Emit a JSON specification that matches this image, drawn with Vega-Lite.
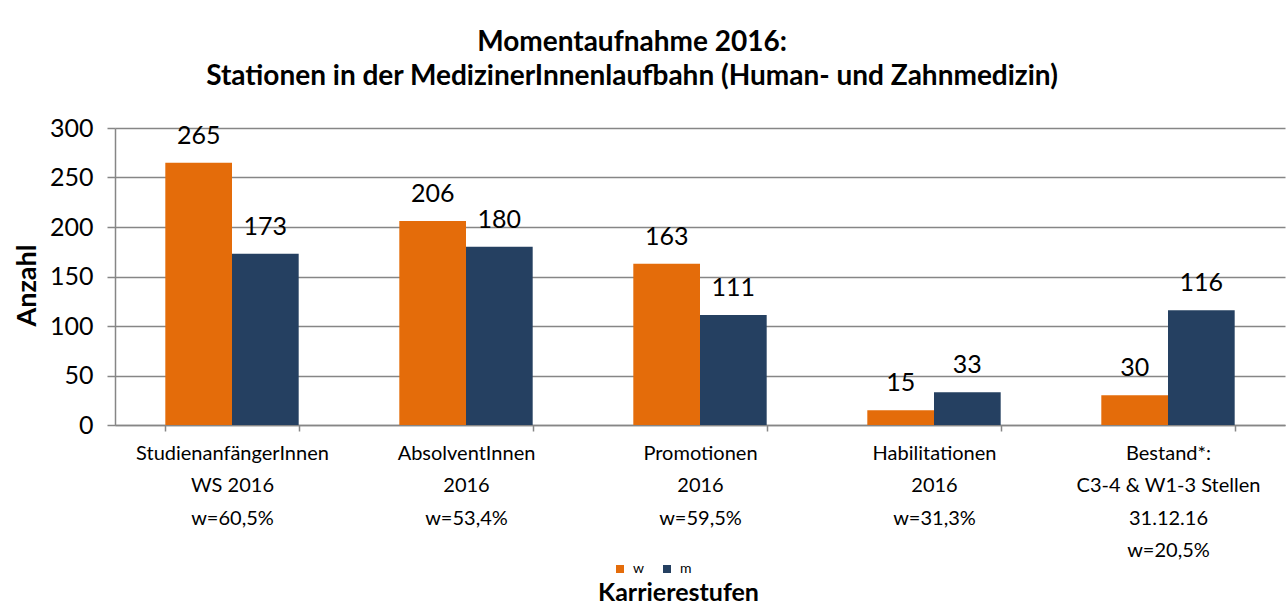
{
  "$schema": "https://vega.github.io/schema/vega-lite/v6.json",
  "width": 1170,
  "height": 297,
  "autosize": {"type": "none"},
  "padding": {"left": 115, "top": 128, "right": 3, "bottom": 189},
  "background": "white",
  "config": {
    "font": "Lato",
    "view": {"stroke": null},
    "axis": {"labelFont": "Lato", "titleFont": "Lato"},
    "legend": {"labelFont": "Lato"}
  },
  "title": {
    "text": ["Momentaufnahme 2016:", "Stationen in der MedizinerInnenlaufbahn (Human- und Zahnmedizin)"],
    "fontSize": 28,
    "fontWeight": "bold",
    "font": "Lato",
    "color": "black",
    "lineHeight": 34,
    "anchor": "middle",
    "dx": -68,
    "offset": 25
  },
  "data": {
    "values": [
      {"stufe": "StudienanfängerInnen|WS 2016|w=60,5%", "geschlecht": "w", "anzahl": 265},
      {"stufe": "StudienanfängerInnen|WS 2016|w=60,5%", "geschlecht": "m", "anzahl": 173},
      {"stufe": "AbsolventInnen|2016|w=53,4%", "geschlecht": "w", "anzahl": 206},
      {"stufe": "AbsolventInnen|2016|w=53,4%", "geschlecht": "m", "anzahl": 180},
      {"stufe": "Promotionen|2016|w=59,5%", "geschlecht": "w", "anzahl": 163},
      {"stufe": "Promotionen|2016|w=59,5%", "geschlecht": "m", "anzahl": 111},
      {"stufe": "Habilitationen|2016|w=31,3%", "geschlecht": "w", "anzahl": 15},
      {"stufe": "Habilitationen|2016|w=31,3%", "geschlecht": "m", "anzahl": 33},
      {"stufe": "Bestand*:|C3-4 & W1-3 Stellen|31.12.16|w=20,5%", "geschlecht": "w", "anzahl": 30},
      {"stufe": "Bestand*:|C3-4 & W1-3 Stellen|31.12.16|w=20,5%", "geschlecht": "m", "anzahl": 116}
    ]
  },
  "encoding": {
    "x": {
      "field": "stufe",
      "type": "nominal",
      "sort": null,
      "scale": {"paddingInner": 0.43, "paddingOuter": 0.215},
      "axis": {
        "title": "Karrierestufen",
        "titleFontSize": 25,
        "titleFontWeight": "bold",
        "titleColor": "black",
        "titleX": 563,
        "titleY": 175,
        "titleBaseline": "alphabetic",
        "labelAngle": 0,
        "labelLimit": 0,
        "labelExpr": "split(datum.label, '|')",
        "labelFontSize": 20,
        "labelColor": "black",
        "labelLineHeight": 32.5,
        "labelPadding": 12,
        "labelBaseline": "top",
        "domainColor": "#868686",
        "domainWidth": 1.5,
        "tickColor": "#868686",
        "tickBand": "extent",
        "tickSize": 6,
        "tickWidth": 1.5,
        "grid": false
      }
    },
    "xOffset": {"field": "geschlecht", "type": "nominal", "sort": ["w", "m"], "scale": {"paddingInner": 0, "paddingOuter": 0}}
  },
  "layer": [
    {
      "mark": {"type": "bar"},
      "encoding": {
        "y": {
          "field": "anzahl",
          "type": "quantitative",
          "scale": {"domain": [0, 300], "nice": false},
          "axis": {
            "title": "Anzahl",
            "titleFontSize": 27,
            "titleFontWeight": "bold",
            "titleColor": "black",
            "titleX": -80,
            "titleY": 157,
            "titleBaseline": "alphabetic",
            "values": [0, 50, 100, 150, 200, 250, 300],
            "labelFontSize": 25,
            "labelColor": "black",
            "labelPadding": 14,
            "domainColor": "#868686",
            "domainWidth": 1.5,
            "tickColor": "#868686",
            "tickSize": 8,
            "tickWidth": 1.5,
            "gridColor": "#868686",
            "gridWidth": 1.5
          }
        },
        "color": {
          "field": "geschlecht",
          "type": "nominal",
          "sort": ["w", "m"],
          "scale": {"domain": ["w", "m"], "range": ["#E46C0A", "#254061"]},
          "legend": {
            "title": null,
            "orient": "none",
            "direction": "horizontal",
            "legendX": 498,
            "legendY": 434,
            "symbolType": "square",
            "symbolSize": 64,
            "symbolStrokeWidth": 0,
            "labelFontSize": 14,
            "labelColor": "black",
            "labelOffset": 6,
            "columnPadding": 16
          }
        }
      }
    },
    {
      "mark": {"type": "text", "baseline": "bottom", "dy": -14, "fontSize": 25, "color": "black", "font": "Lato"},
      "encoding": {
        "y": {"field": "anzahl", "type": "quantitative"},
        "text": {"field": "anzahl", "type": "quantitative"}
      }
    }
  ]
}
